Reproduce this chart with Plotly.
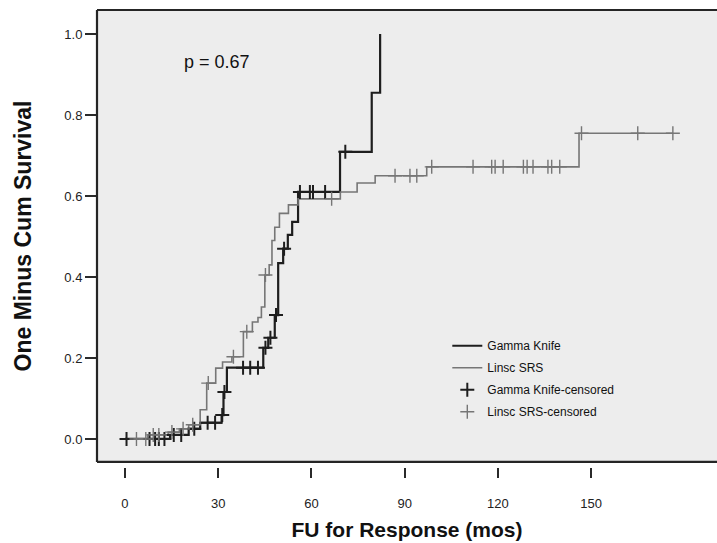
import plotly.graph_objects as go

# ---- data ----
gk_time = [0, 14.5, 20.5, 24.2, 31.1, 31.7, 32.8, 44.5, 46.1, 48.2, 49.3, 50.9, 52.4, 53.8, 55.7, 69.2, 79.4, 82.1]
gk_value = [0, 0.010, 0.025, 0.040, 0.059, 0.116, 0.176, 0.225, 0.250, 0.306, 0.434, 0.470, 0.504, 0.536, 0.610, 0.709, 0.855, 1.000]

ln_time = [0, 7.3, 13.9, 17.5, 20.5, 24.2, 26.3, 29.2, 31.4, 34.4, 38.1, 41.0, 42.8, 43.9, 45.0, 46.4, 47.3, 48.2, 49.7, 52.6, 55.7, 69.3, 74.7, 80.5, 97.1, 146.1, 176.3]
ln_value = [0, 0.010, 0.017, 0.025, 0.035, 0.072, 0.138, 0.175, 0.190, 0.203, 0.265, 0.289, 0.300, 0.326, 0.405, 0.430, 0.490, 0.523, 0.557, 0.578, 0.593, 0.610, 0.632, 0.650, 0.672, 0.755, 0.755]

gk_cens_time = [0.5, 7.9, 9.7, 10.9, 12.7, 15.7, 18.1, 22.3, 26.6, 29.0, 31.3, 32.0, 38.0, 40.3, 42.8, 45.2, 46.8, 48.6, 51.2, 56.3, 59.5, 60.5, 64.4, 70.9]
gk_cens_value = [0, 0, 0, 0, 0, 0.010, 0.010, 0.025, 0.040, 0.040, 0.059, 0.116, 0.176, 0.176, 0.176, 0.225, 0.250, 0.306, 0.470, 0.610, 0.610, 0.610, 0.610, 0.709]

ln_cens_time = [3.7, 6.7, 9.1, 10.9, 15.1, 18.7, 21.8, 26.8, 34.9, 39.2, 45.2, 66.5, 86.9, 91.7, 93.9, 98.7, 112.0, 118.0, 119.1, 121.7, 128.2, 129.4, 131.3, 136.1, 137.3, 139.9, 146.9, 165.0, 176.3]
ln_cens_value = [0, 0, 0.010, 0.010, 0.017, 0.025, 0.035, 0.138, 0.203, 0.265, 0.405, 0.593, 0.650, 0.650, 0.650, 0.672, 0.672, 0.672, 0.672, 0.672, 0.672, 0.672, 0.672, 0.672, 0.672, 0.672, 0.755, 0.755, 0.755]

x_ticks = [0, 30, 60, 90, 120, 150]
y_ticks = [0.0, 0.2, 0.4, 0.6, 0.8, 1.0]
y_tick_text = ["0.0", "0.2", "0.4", "0.6", "0.8", "1.0"]

GK_COLOR = "#1e1e1e"
LN_COLOR = "#767676"
FONT = "Liberation Sans, Arial, sans-serif"

fig = go.Figure()
fig.add_trace(go.Scatter(x=gk_time, y=gk_value, mode="lines", line=dict(shape="hv", color=GK_COLOR, width=2.2),
                         name="Gamma Knife", legendgroup="a"))
fig.add_trace(go.Scatter(x=ln_time, y=ln_value, mode="lines", line=dict(shape="hv", color=LN_COLOR, width=1.6),
                         name="Linsc SRS", legendgroup="b"))
fig.add_trace(go.Scatter(x=gk_cens_time, y=gk_cens_value, mode="markers",
                         marker=dict(symbol="cross-thin", size=10, line=dict(color=GK_COLOR, width=2)),
                         name="Gamma Knife-censored", legendgroup="c"))
fig.add_trace(go.Scatter(x=ln_cens_time, y=ln_cens_value, mode="markers",
                         marker=dict(symbol="cross-thin", size=10, line=dict(color=LN_COLOR, width=1.4)),
                         name="Linsc SRS-censored", legendgroup="d"))

fig.add_annotation(x=29.6, y=0.93, xref="x", yref="y", text="p = 0.67", showarrow=False,
                   font=dict(family=FONT, size=18, color="#111"))

# frame (left, top, bottom) around plotting area
frame = dict(color="#252525", width=2.2)
fig.add_shape(type="line", xref="x domain", yref="y domain", x0=0, x1=0, y0=0, y1=1, line=frame)
fig.add_shape(type="line", xref="x domain", yref="y domain", x0=0, x1=1, y0=1, y1=1, line=frame)
fig.add_shape(type="line", xref="x domain", yref="y domain", x0=0, x1=1, y0=0, y1=0, line=frame)

fig.update_layout(
    width=717, height=543,
    margin=dict(l=97, r=0, t=10, b=76),
    paper_bgcolor="white", plot_bgcolor="#ededed",
    font=dict(family=FONT, color="#222"),
    showlegend=True,
    legend=dict(x=0.565, y=0.297, xanchor="left", yanchor="top", bgcolor="rgba(0,0,0,0)",
                font=dict(family=FONT, size=12, color="#111"), itemwidth=30, tracegroupgap=3),
    xaxis=dict(range=[-9.0, 190.5], tickvals=x_ticks, ticks="outside", ticklen=10, tickwidth=2,
               tickcolor="#2a2a2a", showgrid=False, zeroline=False, showline=False,
               anchor="free", position=0, ticklabelstandoff=14,
               tickfont=dict(family=FONT, size=13, color="#222"),
               title=dict(text="<b>FU for Response (mos)</b>", font=dict(family=FONT, size=21, color="#111"), standoff=12)),
    yaxis=dict(range=[-0.0568, 1.0593], domain=[0.011, 1], tickvals=y_ticks, ticktext=y_tick_text,
               ticks="outside", ticklen=11, tickwidth=2, tickcolor="#2a2a2a",
               showgrid=False, zeroline=False, showline=False,
               tickfont=dict(family=FONT, size=13, color="#222"),
               title=dict(text="<b>One Minus Cum Survival</b>", font=dict(family=FONT, size=23, color="#111"), standoff=26)),
)

fig.write_html("out.html")
